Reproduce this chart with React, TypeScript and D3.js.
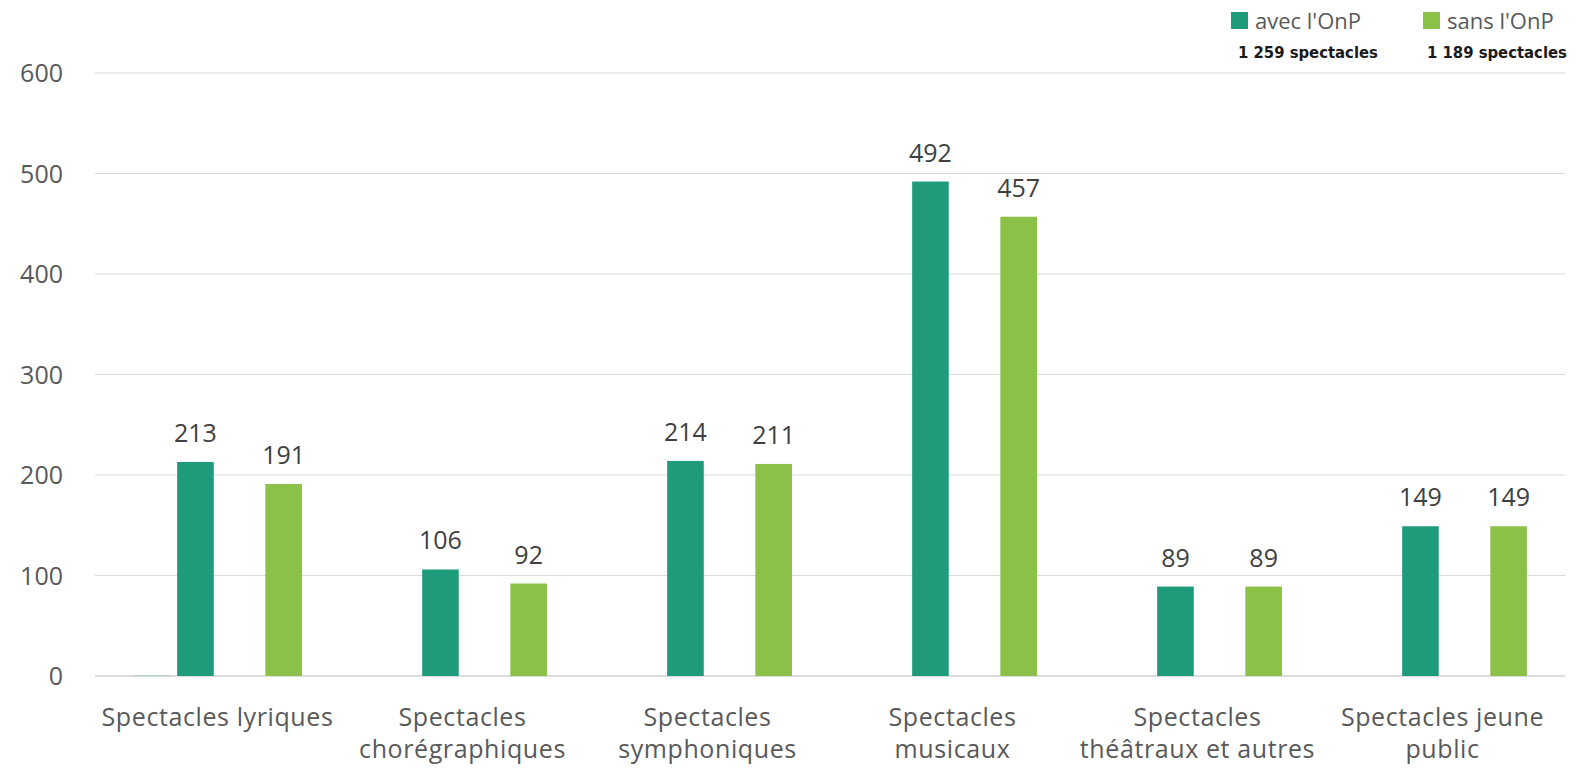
import * as d3 from "d3";

// Catégories (axe X), deux lignes par libellé
const categories = [
  "Spectacles lyriques",
  "Spectacles chorégraphiques",
  "Spectacles symphoniques",
  "Spectacles musicaux",
  "Spectacles théâtraux et autres",
  "Spectacles jeune public"
];
const categoryLines = [
  ["Spectacles lyriques"],
  ["Spectacles", "chorégraphiques"],
  ["Spectacles", "symphoniques"],
  ["Spectacles", "musicaux"],
  ["Spectacles", "théâtraux et autres"],
  ["Spectacles jeune", "public"]
];

// Séries (4 emplacements par groupe, comme dans le graphique d'origine)
const seriesKeys = ["fantome", "avec", "vide", "sans"];
const valeursFantome = [1, 0, 0, 0, 0, 0];
const valeursAvec = [213, 106, 214, 492, 89, 149];
const valeursVide = [0, 0, 0, 0, 0, 0];
const valeursSans = [191, 92, 211, 457, 89, 149];

const yTicks = [0, 100, 200, 300, 400, 500, 600];

const legendItems = [
  { key: "avec", label: "avec l'OnP", sub: "1 259 spectacles" },
  { key: "sans", label: "sans l'OnP", sub: "1 189 spectacles" }
];

const COULEURS: Record<string, string> = {
  fantome: "#a5d8c9",
  avec: "#1f9b7b",
  vide: "none",
  sans: "#8bc147"
};

const WIDTH = 1595;
const HEIGHT = 784;
const margin = { top: 73, right: 30, bottom: 108, left: 95 };
const FONT = "'Open Sans', 'Liberation Sans', sans-serif";

const App = () => {
  const innerW = WIDTH - margin.left - margin.right;
  const innerH = HEIGHT - margin.top - margin.bottom;

  const x0 = d3.scaleBand().domain(categories).range([0, innerW]).paddingInner(0).paddingOuter(0);
  const groupWidth = x0.bandwidth() * 0.72;
  const x1 = d3
    .scaleBand()
    .domain(seriesKeys)
    .range([(x0.bandwidth() - groupWidth) / 2, (x0.bandwidth() + groupWidth) / 2])
    .paddingInner(0.17)
    .paddingOuter(0.085);
  const y = d3.scaleLinear().domain([0, 600]).range([innerH, 0]);

  const valeurs: Record<string, number[]> = {
    fantome: valeursFantome,
    avec: valeursAvec,
    vide: valeursVide,
    sans: valeursSans
  };

  return (
    <svg
      width={WIDTH}
      height={HEIGHT}
      style={{ position: "absolute", top: 0, left: 0, display: "block", background: "#fff" }}
    >
      <g transform={`translate(${margin.left},${margin.top})`}>
        {/* Grille */}
        {yTicks.map((t) => (
          <line
            key={t}
            x1={0}
            x2={innerW}
            y1={y(t)}
            y2={y(t)}
            stroke={t === 0 ? "#d0d0d0" : "#d9d9d9"}
            strokeWidth={t === 0 ? 1.5 : 1}
          />
        ))}
        {/* Axe Y */}
        {yTicks.map((t) => (
          <text
            key={"l" + t}
            x={-32}
            y={y(t)}
            dy="0.36em"
            textAnchor="end"
            fontFamily={FONT}
            fontSize={25}
            fill="#595959"
          >
            {t}
          </text>
        ))}
        {/* Barres */}
        {categories.map((c, i) => (
          <g key={c} transform={`translate(${x0(c)},0)`}>
            {seriesKeys.map((k) => {
              const v = valeurs[k][i];
              if (!v || COULEURS[k] === "none") return null;
              return (
                <rect
                  key={k}
                  x={x1(k)}
                  y={y(v)}
                  width={x1.bandwidth()}
                  height={innerH - y(v)}
                  fill={COULEURS[k]}
                />
              );
            })}
            {["avec", "sans"].map((k) => {
              const v = valeurs[k][i];
              return (
                <text
                  key={"v" + k}
                  x={(x1(k) ?? 0) + x1.bandwidth() / 2}
                  y={y(v) - 20}
                  textAnchor="middle"
                  fontFamily={FONT}
                  fontSize={25}
                  fill="#404040"
                >
                  {v}
                </text>
              );
            })}
            {categoryLines[i].map((line, j) => (
              <text
                key={"c" + j}
                x={x0.bandwidth() / 2}
                y={innerH + 50 + j * 32}
                textAnchor="middle"
                fontFamily={FONT}
                fontSize={25}
                letterSpacing={0.6}
                fill="#595959"
              >
                {line}
              </text>
            ))}
          </g>
        ))}
      </g>
      {/* Légende */}
      {legendItems.map((it, i) => {
        const lx = 1231 + i * 192;
        return (
          <g key={it.key} transform={`translate(${lx},0)`}>
            <rect x={0} y={12} width={17} height={17} fill={COULEURS[it.key]} />
            <text x={24} y={29} fontFamily={FONT} fontSize={22} fill="#595959">
              {it.label}
            </text>
            <text
              x={i === 0 ? 7 : 4}
              y={58}
              fontFamily="'DejaVu Sans Condensed', 'Roboto', sans-serif"
              fontWeight={700}
              fontSize={16.5}
              fill="#1a1a1a"
            >
              {it.sub}
            </text>
          </g>
        );
      })}
    </svg>
  );
};

export default App;
